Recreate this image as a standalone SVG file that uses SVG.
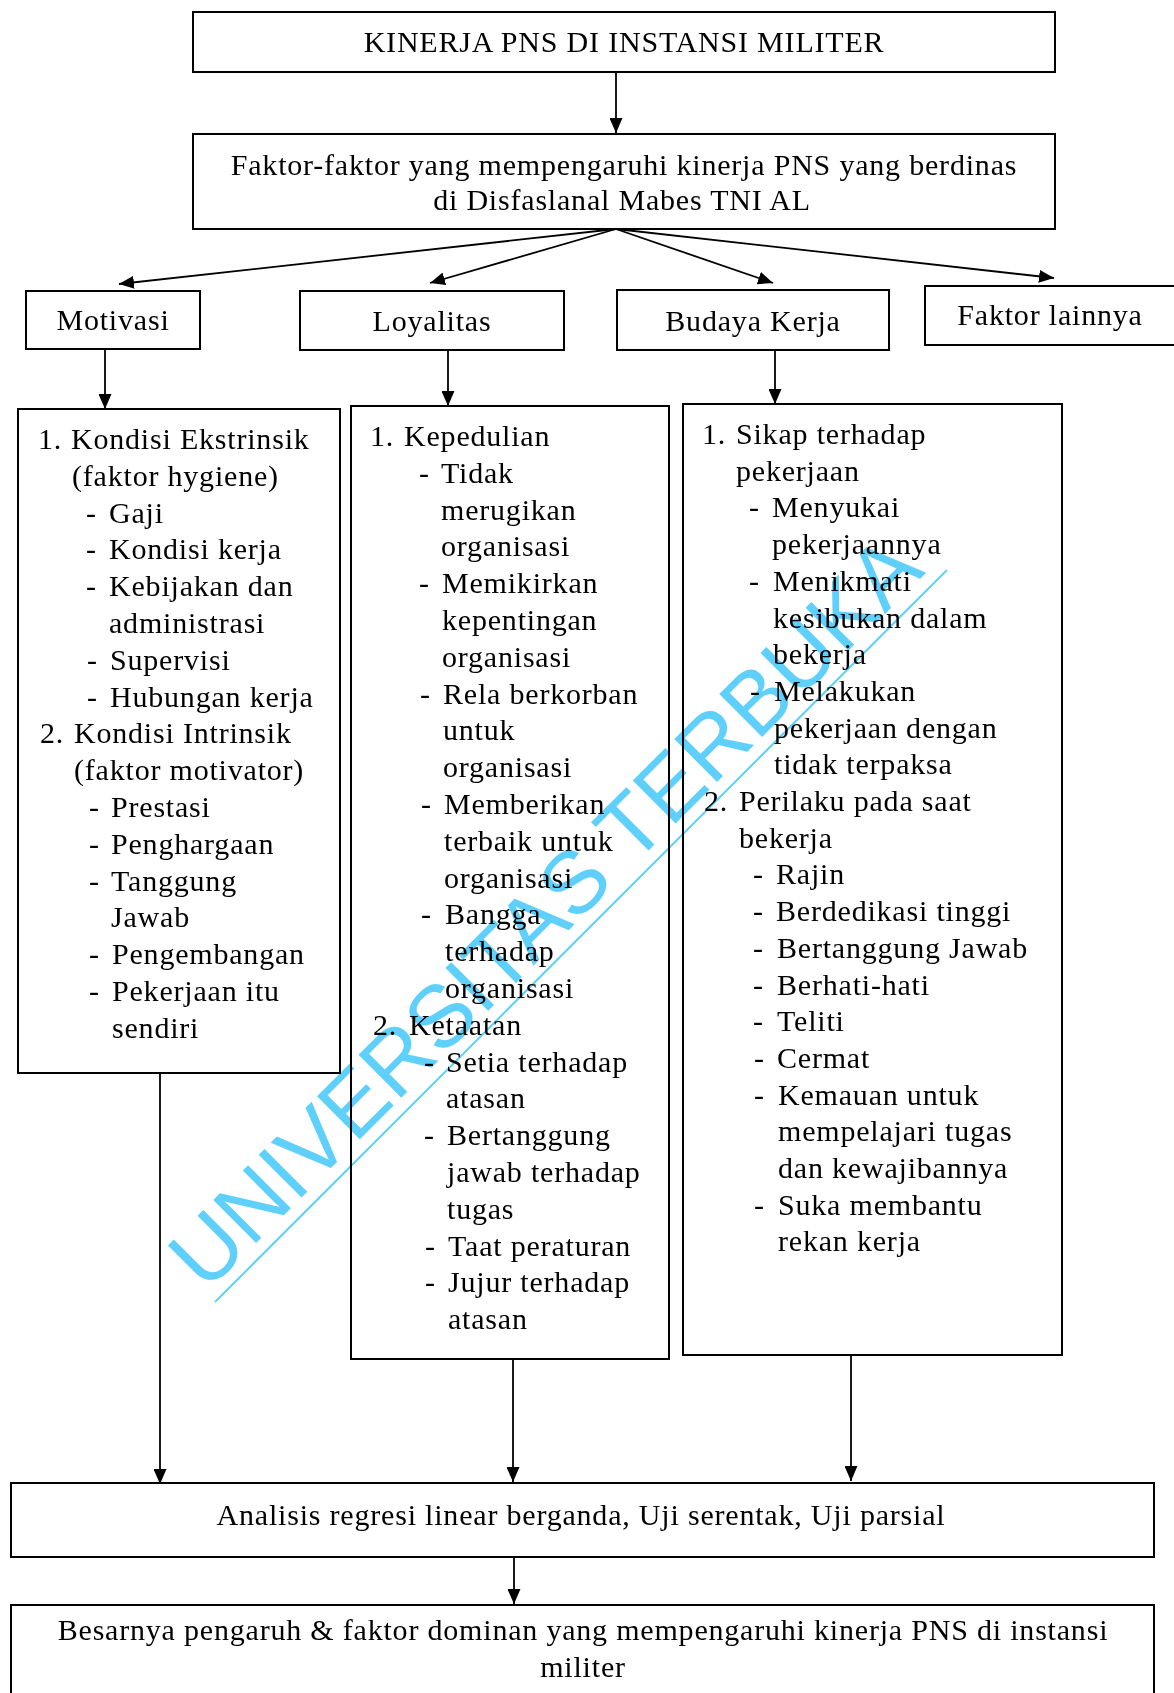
<svg xmlns="http://www.w3.org/2000/svg" width="1174" height="1693" viewBox="0 0 1174 1693">
<defs>
<marker id="ah" markerWidth="15" markerHeight="13" refX="15" refY="6.5" orient="auto" markerUnits="userSpaceOnUse">
<path d="M0,0 L15,6.5 L0,13 Z" fill="#000"/>
</marker>
<style>
.box{fill:#fff;stroke:#000;stroke-width:2}
.t{font-family:"Liberation Serif","Times New Roman",serif;font-size:30px;letter-spacing:0.8px;fill:#000}
.c{text-anchor:middle}
.conn{stroke:#000;stroke-width:1.8;fill:none;marker-end:url(#ah)}
.wm{font-family:"Liberation Sans",Arial,sans-serif;font-size:88px;fill:#5fd0fb;mix-blend-mode:multiply}
</style>
</defs>
<rect width="1174" height="1693" fill="#fff"/>

<g id="node-top">
<rect class="box" x="193" y="12" width="862" height="60"/>
<text class="t c" x="624" y="52">KINERJA PNS DI INSTANSI MILITER</text>
</g>

<g id="node-faktor">
<rect class="box" x="193" y="134" width="862" height="95"/>
<text class="t c" x="624" y="175">Faktor-faktor yang mempengaruhi kinerja PNS yang berdinas</text>
<text class="t c" x="622" y="210">di Disfaslanal Mabes TNI AL</text>
</g>

<g id="node-motivasi">
<rect class="box" x="26" y="291" width="174" height="58"/>
<text class="t c" x="113" y="330">Motivasi</text>
</g>

<g id="node-loyalitas">
<rect class="box" x="300" y="291" width="264" height="59"/>
<text class="t c" x="432" y="331">Loyalitas</text>
</g>

<g id="node-budaya">
<rect class="box" x="617" y="290" width="272" height="60"/>
<text class="t c" x="753" y="331">Budaya Kerja</text>
</g>

<g id="node-lainnya">
<rect class="box" x="925" y="286" width="260" height="59"/>
<text class="t c" x="1050" y="325">Faktor lainnya</text>
</g>

<g id="node-col1">
<rect class="box" x="18" y="409" width="322" height="664"/>
<text class="t" y="449"><tspan x="38">1.</tspan><tspan x="71">Kondisi Ekstrinsik</tspan></text>
<text class="t" y="485.8"><tspan x="72">(faktor hygiene)</tspan></text>
<text class="t" y="522.6"><tspan x="86">-</tspan><tspan x="109">Gaji</tspan></text>
<text class="t" y="559.4"><tspan x="86">-</tspan><tspan x="109">Kondisi kerja</tspan></text>
<text class="t" y="596.2"><tspan x="86">-</tspan><tspan x="109">Kebijakan dan</tspan></text>
<text class="t" y="633"><tspan x="109">administrasi</tspan></text>
<text class="t" y="669.8"><tspan x="87">-</tspan><tspan x="110">Supervisi</tspan></text>
<text class="t" y="706.6"><tspan x="87">-</tspan><tspan x="110">Hubungan kerja</tspan></text>
<text class="t" y="743.4"><tspan x="40">2.</tspan><tspan x="74">Kondisi Intrinsik</tspan></text>
<text class="t" y="780.2"><tspan x="74">(faktor motivator)</tspan></text>
<text class="t" y="817"><tspan x="89">-</tspan><tspan x="111">Prestasi</tspan></text>
<text class="t" y="853.8"><tspan x="89">-</tspan><tspan x="111">Penghargaan</tspan></text>
<text class="t" y="890.6"><tspan x="89">-</tspan><tspan x="111">Tanggung</tspan></text>
<text class="t" y="927.4"><tspan x="111">Jawab</tspan></text>
<text class="t" y="964.2"><tspan x="89">-</tspan><tspan x="112">Pengembangan</tspan></text>
<text class="t" y="1001"><tspan x="89">-</tspan><tspan x="112">Pekerjaan itu</tspan></text>
<text class="t" y="1037.8"><tspan x="112">sendiri</tspan></text>
</g>

<g id="node-col2">
<rect class="box" x="351" y="406" width="318" height="953"/>
<text class="t" y="446"><tspan x="370">1.</tspan><tspan x="404">Kepedulian</tspan></text>
<text class="t" y="482.8"><tspan x="419">-</tspan><tspan x="441">Tidak</tspan></text>
<text class="t" y="519.6"><tspan x="441">merugikan</tspan></text>
<text class="t" y="556.4"><tspan x="441">organisasi</tspan></text>
<text class="t" y="593.2"><tspan x="419">-</tspan><tspan x="442">Memikirkan</tspan></text>
<text class="t" y="630"><tspan x="442">kepentingan</tspan></text>
<text class="t" y="666.8"><tspan x="442">organisasi</tspan></text>
<text class="t" y="703.6"><tspan x="420">-</tspan><tspan x="443">Rela berkorban</tspan></text>
<text class="t" y="740.4"><tspan x="443">untuk</tspan></text>
<text class="t" y="777.2"><tspan x="443">organisasi</tspan></text>
<text class="t" y="814"><tspan x="421">-</tspan><tspan x="444">Memberikan</tspan></text>
<text class="t" y="850.8"><tspan x="444">terbaik untuk</tspan></text>
<text class="t" y="887.6"><tspan x="444">organisasi</tspan></text>
<text class="t" y="924.4"><tspan x="421">-</tspan><tspan x="445">Bangga</tspan></text>
<text class="t" y="961.2"><tspan x="445">terhadap</tspan></text>
<text class="t" y="998"><tspan x="445">organisasi</tspan></text>
<text class="t" y="1034.8"><tspan x="373">2.</tspan><tspan x="409">Ketaatan</tspan></text>
<text class="t" y="1071.6"><tspan x="424">-</tspan><tspan x="446">Setia terhadap</tspan></text>
<text class="t" y="1108.4"><tspan x="446">atasan</tspan></text>
<text class="t" y="1145.2"><tspan x="424">-</tspan><tspan x="447">Bertanggung</tspan></text>
<text class="t" y="1182"><tspan x="447">jawab terhadap</tspan></text>
<text class="t" y="1218.8"><tspan x="447">tugas</tspan></text>
<text class="t" y="1255.6"><tspan x="425">-</tspan><tspan x="448">Taat peraturan</tspan></text>
<text class="t" y="1292.4"><tspan x="425">-</tspan><tspan x="448">Jujur terhadap</tspan></text>
<text class="t" y="1329.2"><tspan x="448">atasan</tspan></text>
</g>

<g id="node-col3">
<rect class="box" x="683" y="404" width="379" height="951"/>
<text class="t" y="444"><tspan x="702">1.</tspan><tspan x="736">Sikap terhadap</tspan></text>
<text class="t" y="480.7"><tspan x="736">pekerjaan</tspan></text>
<text class="t" y="517.4"><tspan x="749">-</tspan><tspan x="772">Menyukai</tspan></text>
<text class="t" y="554.1"><tspan x="772">pekerjaannya</tspan></text>
<text class="t" y="590.8"><tspan x="749">-</tspan><tspan x="773">Menikmati</tspan></text>
<text class="t" y="627.5"><tspan x="773">kesibukan dalam</tspan></text>
<text class="t" y="664.2"><tspan x="773">bekerja</tspan></text>
<text class="t" y="700.9"><tspan x="750">-</tspan><tspan x="774">Melakukan</tspan></text>
<text class="t" y="737.6"><tspan x="774">pekerjaan dengan</tspan></text>
<text class="t" y="774.3"><tspan x="774">tidak terpaksa</tspan></text>
<text class="t" y="811"><tspan x="704">2.</tspan><tspan x="739">Perilaku pada saat</tspan></text>
<text class="t" y="847.7"><tspan x="739">bekerja</tspan></text>
<text class="t" y="884.4"><tspan x="753">-</tspan><tspan x="776">Rajin</tspan></text>
<text class="t" y="921.1"><tspan x="753">-</tspan><tspan x="776">Berdedikasi tinggi</tspan></text>
<text class="t" y="957.8"><tspan x="753">-</tspan><tspan x="777">Bertanggung Jawab</tspan></text>
<text class="t" y="994.5"><tspan x="753">-</tspan><tspan x="777">Berhati-hati</tspan></text>
<text class="t" y="1031.2"><tspan x="753">-</tspan><tspan x="777">Teliti</tspan></text>
<text class="t" y="1067.9"><tspan x="754">-</tspan><tspan x="777">Cermat</tspan></text>
<text class="t" y="1104.6"><tspan x="754">-</tspan><tspan x="778">Kemauan untuk</tspan></text>
<text class="t" y="1141.3"><tspan x="778">mempelajari tugas</tspan></text>
<text class="t" y="1178"><tspan x="778">dan kewajibannya</tspan></text>
<text class="t" y="1214.7"><tspan x="754">-</tspan><tspan x="778">Suka membantu</tspan></text>
<text class="t" y="1251.4"><tspan x="778">rekan kerja</tspan></text>
</g>

<g id="node-analisis">
<rect class="box" x="11" y="1483" width="1143" height="74"/>
<text class="t c" x="581" y="1525">Analisis regresi linear berganda, Uji serentak, Uji parsial</text>
</g>

<g id="node-hasil">
<rect class="box" x="11" y="1605" width="1143" height="100"/>
<text class="t c" x="583" y="1640">Besarnya pengaruh &amp; faktor dominan yang mempengaruhi kinerja PNS di instansi</text>
<text class="t c" x="583" y="1677">militer</text>
</g>

<g id="connectors">
<line class="conn" x1="616" y1="72" x2="616" y2="133"/>
<line class="conn" x1="616" y1="229" x2="119" y2="284"/>
<line class="conn" x1="616" y1="229" x2="430" y2="283"/>
<line class="conn" x1="616" y1="229" x2="773" y2="283"/>
<line class="conn" x1="616" y1="229" x2="1054" y2="278"/>
<line class="conn" x1="105" y1="349" x2="105" y2="409"/>
<line class="conn" x1="448" y1="350" x2="448" y2="406"/>
<line class="conn" x1="775" y1="350" x2="775" y2="404"/>
<line class="conn" x1="160" y1="1073" x2="160" y2="1484"/>
<line class="conn" x1="513" y1="1359" x2="513" y2="1482"/>
<line class="conn" x1="851" y1="1355" x2="851" y2="1481"/>
<line class="conn" x1="514" y1="1557" x2="514" y2="1604"/>
</g>

<g id="watermark">
<text class="wm" x="206" y="1293" transform="rotate(-45 206 1293)">UNIVERSITAS TERBUKA</text>
<line x1="215" y1="1302" x2="947" y2="570" stroke="#5fd0fb" stroke-width="2" style="mix-blend-mode:multiply"/>
</g>
</svg>
